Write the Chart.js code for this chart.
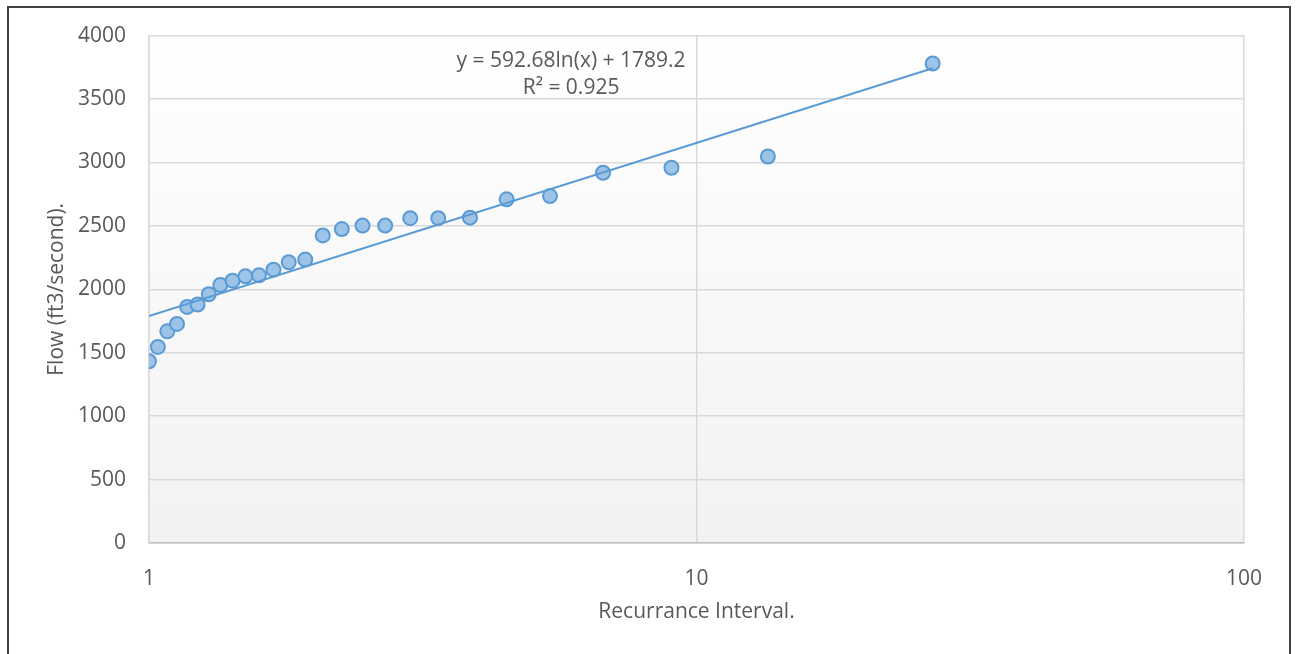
<!DOCTYPE html>
<html>
<head>
<meta charset="utf-8">
<script src="https://cdn.jsdelivr.net/npm/chart.js@4/dist/chart.umd.min.js"></script>
<style>
  html, body { margin: 0; padding: 0; background: #fff; overflow: hidden; }
  #frame { position: absolute; left: 7px; top: 6px; width: 1284px; height: 700px;
           border: 2px solid #404040; box-sizing: border-box; }
  #wrap { position: absolute; left: 0; top: 0; width: 1300px; height: 654px; }
</style>
</head>
<body>
<div id="frame"></div>
<div id="wrap"><canvas id="flowChart" width="1300" height="654"></canvas></div>
<script>
// recurrence interval (years) and flow (ft3/second)
const recurrence = [1, 1.038, 1.08, 1.125, 1.174, 1.227, 1.286, 1.35, 1.421, 1.5, 1.588, 1.688, 1.8, 1.929,
                    2.077, 2.25, 2.455, 2.7, 3, 3.375, 3.857, 4.5, 5.4, 6.75, 9, 13.5, 27];
const flow = [1433, 1546, 1669, 1727, 1861, 1880, 1961, 2034, 2068, 2102, 2110, 2155, 2213, 2234,
              2425, 2475, 2502, 2502, 2561, 2561, 2565, 2709, 2735, 2919, 2958, 3047, 3780];

// log trendline end points
const trendX = [1, 27];
const trendY = [1789, 3743];

const xTicks = [1, 10, 100];
const yTicks = [0, 500, 1000, 1500, 2000, 2500, 3000, 3500, 4000];
const eqLines = ['y = 592.68ln(x) + 1789.2', 'R\u00b2 = 0.925'];
const eqAt = { x: 5.9, y: 3800 };

const textColor = '#595959';
const fontFamily = '"Open Sans", sans-serif';
const fontSize = 21;

const plotBackground = {
    id: 'plotBackground',
    beforeDraw(chart) {
        const { ctx, chartArea: a } = chart;
        const g = ctx.createLinearGradient(0, a.top, 0, a.bottom);
        g.addColorStop(0, '#ffffff');
        g.addColorStop(1, '#f2f2f2');
        ctx.save();
        ctx.fillStyle = g;
        ctx.fillRect(a.left, a.top, a.right - a.left, a.bottom - a.top);
        ctx.restore();
    }
};

const equationLabel = {
    id: 'equationLabel',
    afterDraw(chart) {
        const { ctx, scales } = chart;
        const x = scales.x.getPixelForValue(eqAt.x);
        const y = scales.y.getPixelForValue(eqAt.y);
        ctx.save();
        ctx.fillStyle = textColor;
        ctx.font = fontSize + 'px ' + fontFamily;
        ctx.textAlign = 'center';
        ctx.textBaseline = 'middle';
        eqLines.forEach((t, i) => ctx.fillText(t, x, y + i * 27));
        ctx.restore();
    }
};

const ctx = document.getElementById('flowChart').getContext('2d');
new Chart(ctx, {
    type: 'scatter',
    data: {
        datasets: [{
            label: 'Flow',
            data: recurrence.map((r, i) => ({ x: r, y: flow[i] })),
            backgroundColor: '#9dc3e6',
            borderColor: '#5b9bd5',
            borderWidth: 2,
            pointRadius: 7,
            order: 1
        }, {
            label: 'Trend',
            data: trendX.map((r, i) => ({ x: r, y: trendY[i] })),
            showLine: true,
            borderColor: '#5b9bd5',
            borderWidth: 2,
            pointRadius: 0,
            order: 0
        }]
    },
    options: {
        responsive: false,
        animation: false,
        layout: { padding: { top: 35, right: 56, left: 0, bottom: 0 } },
        plugins: {
            legend: { display: false },
            tooltip: { enabled: false }
        },
        scales: {
            x: {
                type: 'logarithmic',
                min: 1,
                max: 100,
                afterBuildTicks: scale => { scale.ticks = xTicks.map(v => ({ value: v })); },
                afterFit: scale => { scale.height = 111; },
                grid: { color: '#d9d9d9', lineWidth: 1.5, drawTicks: false },
                border: { color: '#bfbfbf', width: 1.5 },
                ticks: {
                    color: textColor,
                    font: { family: fontFamily, size: fontSize },
                    padding: 23,
                    maxRotation: 0,
                    callback: v => String(v)
                },
                title: {
                    display: true,
                    text: 'Recurrance Interval.',
                    color: textColor,
                    font: { family: fontFamily, size: fontSize },
                    padding: { bottom: 29 }
                }
            },
            y: {
                min: 0,
                max: 4000,
                afterBuildTicks: scale => { scale.ticks = yTicks.map(v => ({ value: v })); },
                afterFit: scale => { scale.width = 149; },
                grid: { color: '#d9d9d9', lineWidth: 1.5, drawTicks: false },
                border: { color: '#d9d9d9', width: 1.5 },
                ticks: {
                    color: textColor,
                    font: { family: fontFamily, size: fontSize },
                    padding: 23,
                    callback: v => String(v)
                },
                title: {
                    display: true,
                    text: 'Flow (ft3/second).',
                    color: textColor,
                    font: { family: fontFamily, size: fontSize },
                    padding: { top: 44 }
                }
            }
        }
    },
    plugins: [plotBackground, equationLabel]
});
</script>
</body>
</html>
